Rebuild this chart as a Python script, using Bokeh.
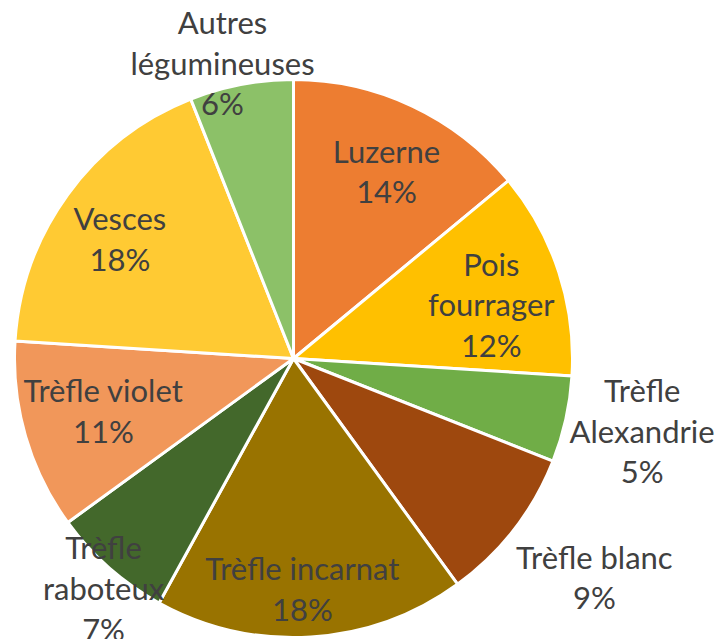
import math
from bokeh.plotting import figure
from bokeh.models import Range1d, ColumnDataSource
from bokeh.core.properties import value
from bokeh.embed import file_html
from bokeh.resources import INLINE

labels = ["Luzerne", "Pois\nfourrager", "Trèfle\nAlexandrie", "Trèfle blanc",
          "Trèfle incarnat", "Trèfle\nraboteux", "Trèfle violet", "Vesces",
          "Autres\nlégumineuses"]
values = [14, 12, 5, 9, 18, 7, 11, 18, 6]
colors = ["#ED7D31", "#FFC000", "#70AD47", "#9E480E", "#997300",
          "#43682B", "#F1975A", "#FFCA33", "#8CC168"]
# label placement: radial fraction of radius and angular offset (deg, clockwise)
label_r = [0.75, 0.735, 1.276, 1.333, 0.824, 1.068, 0.706, 0.756, 1.09]
label_dang = [1.2, 2.7, -0.9, -1.8, 1.4, -1.8, 0.9, -1.4, -2.7]

total = sum(values)
starts, ends, lx, ly, txt = [], [], [], [], []
cum = 0.0
for lab, v, r, da in zip(labels, values, label_r, label_dang):
    a0 = math.pi / 2 - cum / total * 2 * math.pi
    a1 = math.pi / 2 - (cum + v) / total * 2 * math.pi
    starts.append(a0)
    ends.append(a1)
    mid = (a0 + a1) / 2 - math.radians(da)
    lx.append(r * math.cos(mid))
    ly.append(r * math.sin(mid))
    txt.append(f"{lab}\n{round(v / total * 100)}%")
    cum += v

R = 279.0
cx, cy = 293.0, 358.0
W, H = 715, 639
p = figure(width=W, height=H, output_backend="svg", toolbar_location=None,
           x_range=Range1d((0 - cx) / R, (W - cx) / R),
           y_range=Range1d((cy - H) / R, cy / R),
           min_border=0)
p.axis.visible = False
p.grid.visible = False
p.outline_line_color = None

src = ColumnDataSource(dict(start=starts, end=ends, color=colors))
p.wedge(x=0, y=0, radius=1.0, start_angle="start", end_angle="end",
        direction="clock", fill_color="color", line_color="white",
        line_width=3, source=src)

tsrc = ColumnDataSource(dict(x=lx, y=ly, text=txt))
p.text(x="x", y="y", text="text", source=tsrc, text_align="center",
       text_baseline="middle", text_font=value("Lato"),
       text_font_size="31px", text_color="#404040", text_line_height=1.07)

open("out.html", "w").write(file_html(p, INLINE))
